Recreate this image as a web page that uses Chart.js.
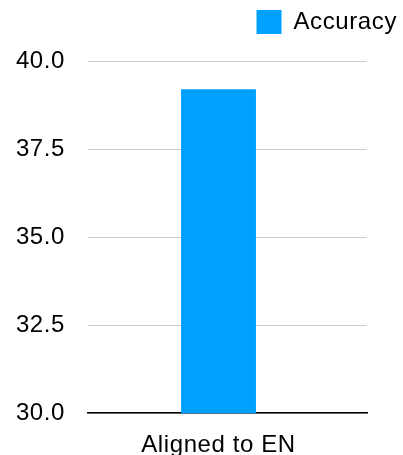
<!DOCTYPE html>
<html>
<head>
<meta charset="utf-8">
<script src="https://cdn.jsdelivr.net/npm/chart.js@4"></script>
<style>
  html, body { margin: 0; padding: 0; background: #fff; }
  #wrap { width: 403px; height: 455px; }
</style>
</head>
<body>
<div id="wrap"><canvas id="chart"></canvas></div>
<script>
// accuracy of the aligned model, one bar
const categories = ['Aligned to EN'];
const accuracy = [39.2];
const seriesName = 'Accuracy';
const yMin = 30, yMax = 40, yStep = 2.5;

const FONT = '"Liberation Sans", Arial, sans-serif';
const BLUE = '#00A0FF';

// slightly wider text, set again after every canvas resize
const spacing = {
  id: 'spacing',
  beforeUpdate(chart) { chart.ctx.letterSpacing = '0.6px'; },
  beforeDraw(chart) { chart.ctx.letterSpacing = '0.6px'; }
};

// extra room between legend and plot
const legendGap = {
  id: 'legendGap',
  beforeInit(chart) {
    const fit = chart.legend.fit;
    chart.legend.fit = function () {
      fit.call(this);
      this.height += 17;
    };
  }
};

// category band stops a little short of the right end of the gridlines
const bandInset = {
  id: 'bandInset',
  afterLayout(chart) {
    const x = chart.scales.x;
    x._length -= 18;
  }
};

new Chart(document.getElementById('chart'), {
  type: 'bar',
  data: {
    labels: categories,
    datasets: [{ label: seriesName, data: accuracy, backgroundColor: BLUE, barPercentage: 0.287, categoryPercentage: 1 }]
  },
  plugins: [spacing, legendGap, bandInset],
  options: {
    responsive: true,
    maintainAspectRatio: false,
    animation: false,
    layout: { padding: { left: 16, right: -4, top: 0, bottom: 0 } },
    plugins: {
      legend: {
        position: 'top',
        align: 'end',
        labels: {
          boxWidth: 25, boxHeight: 24,
          color: '#000',
          font: { family: FONT, size: 24 },
          padding: 10
        }
      },
      tooltip: { enabled: false }
    },
    scales: {
      x: {
        grid: { display: false },
        border: { display: true, color: '#000', width: 1.5 },
        ticks: { color: '#000', font: { family: FONT, size: 24 }, padding: 10 },
        afterFit(scale) { scale.height -= 15; }
      },
      y: {
        min: yMin, max: yMax,
        grid: { color: '#cccccc', lineWidth: 1, drawTicks: false },
        border: { display: false },
        ticks: {
          stepSize: yStep,
          color: '#000',
          padding: 23,
          font: { family: FONT, size: 24 },
          callback: v => v.toFixed(1)
        },
        afterFit(scale) { scale.width = 72; }
      },
      // blank strip on the right of the plot
      yRight: {
        position: 'right',
        grid: { display: false },
        border: { display: false },
        ticks: { display: false },
        afterFit(scale) { scale.width = 40; }
      }
    }
  }
});
</script>
</body>
</html>
